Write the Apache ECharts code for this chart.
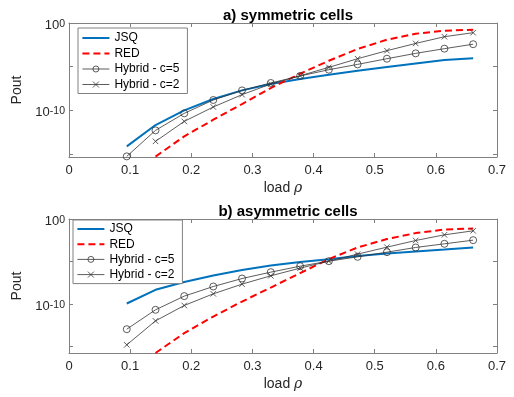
<!DOCTYPE html>
<html>
<head>
<meta charset="utf-8">
<script src="https://cdn.jsdelivr.net/npm/echarts@6/dist/echarts.min.js"></script>
<style>html,body{margin:0;padding:0;background:#fff;}#c{width:514px;height:397px;}</style>
</head>
<body>
<div id="c"></div>
<script>
// load rho values
var loads = [0.0945, 0.1415, 0.1885, 0.236, 0.283, 0.330, 0.378, 0.425, 0.472, 0.520, 0.567, 0.614, 0.661];
// log10(Pout) values
// a) symmetric cells
var symJSQ   = [-14.13, -11.69, -10.01, -8.71, -7.72, -6.99, -6.41, -5.92, -5.46, -5.04, -4.63, -4.24, -4.03];
var symRED   = [null, -15.3, -12.99, -11.08, -9.28, -7.45, -5.81, -4.32, -2.98, -1.91, -1.23, -0.88, -0.77];
var symHyb5  = [-15.28, -12.3, -10.35, -8.82, -7.72, -6.87, -6.07, -5.35, -4.74, -4.09, -3.48, -2.94, -2.43];
var symHyb2  = [null, -13.56, -11.27, -9.62, -8.21, -6.99, -6.04, -5.08, -4.09, -3.17, -2.34, -1.57, -1.11];
// b) asymmetric cells
var asyJSQ   = [-9.94, -8.33, -7.42, -6.65, -6.01, -5.47, -5.07, -4.72, -4.36, -4.06, -3.82, -3.59, -3.35];
var asyRED   = [null, -15.76, -13.42, -11.47, -9.71, -8.06, -6.36, -4.72, -3.35, -2.36, -1.66, -1.24, -1.12];
var asyHyb5  = [-12.96, -10.68, -9.07, -7.94, -7.0, -6.25, -5.55, -4.96, -4.45, -3.9, -3.35, -2.92, -2.49];
var asyHyb2  = [-14.8, -11.98, -10.17, -8.8, -7.66, -6.68, -5.78, -4.96, -4.13, -3.31, -2.53, -1.86, -1.39];
// axis ticks
var xTicksMin = 0, xTicksMax = 0.7, xTickStep = 0.1;
var yTickExps = [-15, -10, -5, 0];
var yLabelExps = [-10, 0];
var yMinTop = -15.35, yMinBottom = -15.76;
var titles = ['a) symmetric cells', 'b) asymmetric cells'];
var names = ['JSQ', 'RED', 'Hybrid - c=5', 'Hybrid - c=2'];

var FONT = 'Liberation Sans, Arial, Helvetica, sans-serif';
var AX = '#808080';
var TXT = '#262626';
var LINE = {show: true, onZero: false, lineStyle: {color: AX, width: 1}};
var TICK = {show: true, inside: true, length: 4, lineStyle: {color: AX, width: 1}};
var grids = [
  {left: 69, right: 17, top: 23, height: 134},
  {left: 69, right: 17, top: 219, height: 134}
];
function pairs(vals){ return loads.map(function(x,i){ return [x, vals[i]]; }); }

var xAxes = [], yAxes = [];
[0,1].forEach(function(g){
  var ymin = g === 0 ? yMinTop : yMinBottom;
  xAxes.push({
    gridIndex: g, type: 'value', min: xTicksMin, max: xTicksMax, interval: xTickStep,
    position: 'bottom', axisLine: LINE, axisTick: TICK,
    splitLine: {show: false},
    axisLabel: {color: TXT, fontSize: 13, fontFamily: FONT, margin: 7,
      formatter: function(v){ return (Math.round(v*10)/10).toString(); }},
    name: '{n|load }{i|ρ}', nameLocation: 'middle', nameGap: 24,
    nameTextStyle: {rich: {n: {fontSize: 14, fontFamily: FONT, color: TXT},
                           i: {fontSize: 14, fontFamily: 'DejaVu Serif, serif', fontStyle: 'italic', color: TXT}}}
  });
  xAxes.push({
    gridIndex: g, type: 'value', min: xTicksMin, max: xTicksMax, interval: xTickStep,
    position: 'top', axisLine: LINE, axisTick: TICK,
    splitLine: {show: false}, axisLabel: {show: false}
  });
  yAxes.push({
    gridIndex: g, type: 'value', min: ymin, max: 0, position: 'left',
    axisLine: LINE,
    axisTick: Object.assign({}, TICK, {customValues: yTickExps}),
    splitLine: {show: false},
    axisLabel: {customValues: yLabelExps, margin: 4, padding: [4,0,0,0],
      formatter: function(v){ return '{b|10}{s|' + Math.round(v) + '}'; },
      rich: {b: {fontSize: 13, lineHeight: 13, fontFamily: FONT, color: TXT, padding: [3,0,0,0], verticalAlign: 'bottom'},
             s: {fontSize: 10.5, lineHeight: 11, fontFamily: FONT, color: TXT, verticalAlign: 'top'}}},
    name: 'Pout', nameLocation: 'middle', nameRotate: 90, nameGap: 41,
    nameTextStyle: {fontSize: 14, fontFamily: FONT, color: TXT}
  });
  yAxes.push({
    gridIndex: g, type: 'value', min: ymin, max: 0, position: 'right',
    axisLine: LINE,
    axisTick: Object.assign({}, TICK, {customValues: yTickExps}),
    splitLine: {show: false}, axisLabel: {show: false}
  });
});

var xPath = 'path://M0,0L10,10M10,0L0,10';
function mkSeries(g, jsq, red, h5, h2){
  var xi = g*2, yi = g*2;
  return [
    {name: names[0], type: 'line', xAxisIndex: xi, yAxisIndex: yi, data: pairs(jsq), symbol: 'none',
     lineStyle: {color: '#0072BD', width: 2}, itemStyle: {color: '#0072BD'}, z: 3},
    {name: names[1], type: 'line', xAxisIndex: xi, yAxisIndex: yi, data: pairs(red), symbol: 'none',
     lineStyle: {color: '#FF0000', width: 2, type: [7,4]}, itemStyle: {color: '#FF0000'}, z: 3},
    {name: names[2], type: 'line', xAxisIndex: xi, yAxisIndex: yi, data: pairs(h5), symbol: 'circle', symbolSize: 7,
     lineStyle: {color: '#333', width: 0.8}, itemStyle: {color: 'rgba(0,0,0,0)', borderColor: '#333', borderWidth: 0.8}, z: 4},
    {name: names[3], type: 'line', xAxisIndex: xi, yAxisIndex: yi, data: pairs(h2), symbol: xPath, symbolSize: 5.5,
     lineStyle: {color: '#333', width: 0.8}, itemStyle: {color: 'rgba(0,0,0,0)', borderColor: '#333', borderWidth: 0.8}, z: 4}
  ];
}

var legendData = [
  {name: names[0], icon: 'path://M0,0H27V2H0Z', itemStyle: {color: '#0072BD'}},
  {name: names[1], icon: 'path://M0,0H7V2H0ZM11,0H18V2H11ZM22,0H27V2H22Z', itemStyle: {color: '#FF0000'}},
  {name: names[2], lineStyle: {width: 0.8, color: '#333'}, itemStyle: {color: 'rgba(0,0,0,0)', borderColor: '#333', borderWidth: 0.8}},
  {name: names[3], lineStyle: {width: 0.8, color: '#333'}, itemStyle: {color: 'rgba(0,0,0,0)', borderColor: '#333', borderWidth: 0.8}}
];
var legendBase = {
  orient: 'vertical', data: legendData, itemWidth: 27, itemHeight: 7.5, itemGap: 3.5,
  backgroundColor: '#fff', borderColor: AX, borderWidth: 1,
  textStyle: {fontSize: 12, fontFamily: FONT, color: '#000', lineHeight: 12},
  selectedMode: false
};

var option = {
  animation: false,
  backgroundColor: '#fff',
  title: [
    {text: titles[0], left: 283, top: 3, textAlign: 'center',
     textStyle: {fontSize: 15, fontWeight: 'bold', fontFamily: FONT, color: '#000'}},
    {text: titles[1], left: 283, top: 199, textAlign: 'center',
     textStyle: {fontSize: 15, fontWeight: 'bold', fontFamily: FONT, color: '#000'}}
  ],
  legend: [
    Object.assign({}, legendBase, {left: 78, top: 28, padding: [4, 8, 3, 4]}),
    Object.assign({}, legendBase, {left: 73, top: 220, padding: [3, 8, 3, 4], itemGap: 3.2})
  ],
  grid: grids,
  xAxis: xAxes,
  yAxis: yAxes,
  series: [].concat(mkSeries(0, symJSQ, symRED, symHyb5, symHyb2), mkSeries(1, asyJSQ, asyRED, asyHyb5, asyHyb2))
};
var chart = echarts.init(document.getElementById('c'), null, {renderer: 'canvas'});
chart.setOption(option);
</script>
</body>
</html>
